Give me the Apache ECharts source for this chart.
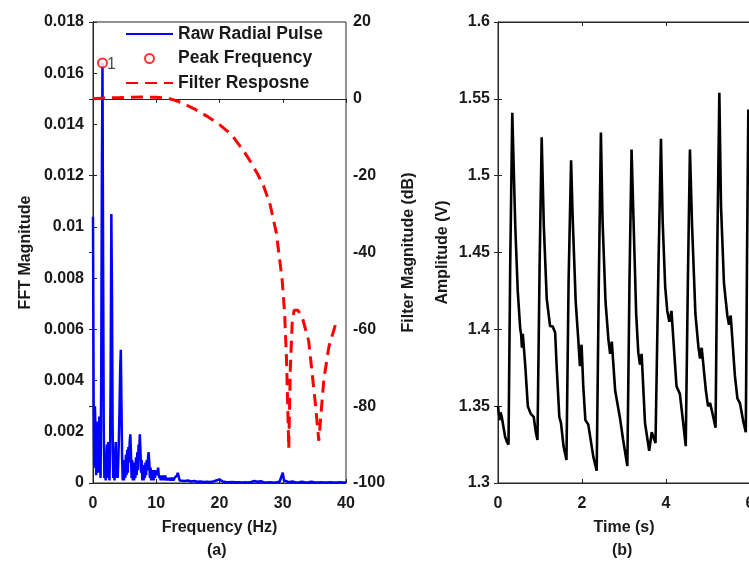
<!DOCTYPE html>
<html><head><meta charset="utf-8">
<script src="https://cdn.jsdelivr.net/npm/echarts@6/dist/echarts.min.js"></script>
<style>html,body{margin:0;padding:0;background:#fff}#c{width:749px;height:563px}</style>
</head><body><div id="c"></div>
<script>
// ---- FFT spectrum (panel a) ----
const fftFreq = [0.0,0.1,0.2,0.3,0.4,0.5,0.6,0.7,0.8,0.9,1.0,1.1,1.2,1.3,1.4,1.5,1.6,1.7,1.8,1.9,
2.0,2.1,2.2,2.3,2.4,2.5,2.6,2.7,2.8,2.9,3.0,3.1,3.2,3.3,3.4,3.5,3.6,3.7,3.8,3.9,
4.0,4.1,4.2,4.3,4.4,4.5,4.6,4.7,4.8,4.9,5.0,5.1,5.2,5.3,5.4,5.5,5.6,5.7,5.8,5.9,
6.0,6.1,6.2,6.3,6.4,6.5,6.6,6.7,6.8,6.9,7.0,7.1,7.2,7.3,7.4,7.5,7.6,7.7,7.8,7.9,
8.0,8.1,8.2,8.3,8.4,8.5,8.6,8.7,8.8,8.9,9.0,9.1,9.2,9.3,9.4,9.5,9.6,9.7,9.8,9.9,
10.0,10.1,10.2,10.3,10.4,10.5,10.6,10.7,10.8,10.9,11.0,11.1,11.2,11.3,11.4,11.5,11.6,11.7,11.8,11.9,
12.0,12.1,12.2,12.3,12.4,12.5,12.6,12.7,12.8,12.9,13.0,13.1,13.2,13.3,13.4,13.5,13.6,13.7,13.8,13.9,
14.0,14.5,15.0,15.5,16.0,16.5,17.0,17.5,18.0,18.5,19.0,19.5,20.0,20.5,21.0,21.5,22.0,22.5,23.0,23.5,
24.0,24.5,25.0,25.5,26.0,26.5,27.0,27.5,28.0,28.5,29.0,29.5,29.8,30.0,30.2,30.5,31.0,31.5,32.0,32.5,
33.0,33.5,34.0,34.5,35.0,35.5,36.0,36.5,37.0,37.5,38.0,38.5,39.0,39.5,40.0];
const fftMag = [0.0104,0.0033,0.0006,0.0030,0.0021,0.0003,0.0020,0.0024,0.0004,0.0016,
0.0026,0.0008,0.0002,0.0042,0.0118,0.0164,0.0085,0.0020,0.0002,0.0011,
0.0001,0.0009,0.0015,0.0002,0.0016,0.0007,0.0001,0.0012,0.0046,0.0105,
0.0074,0.0022,0.0002,0.0012,0.0001,0.0010,0.0016,0.0002,0.0011,0.0002,
0.0009,0.0018,0.0030,0.0045,0.0052,0.0031,0.0010,0.0001,0.0009,0.0001,
0.0008,0.0002,0.0011,0.0003,0.0013,0.0004,0.0014,0.0008,0.0016,0.0019,
0.0012,0.0002,0.0009,0.0001,0.0007,0.0001,0.0008,0.0002,0.0010,0.0003,
0.0012,0.0005,0.0015,0.0011,0.0019,0.0013,0.0004,0.0009,0.0001,0.0007,
0.0001,0.0006,0.0002,0.0008,0.0003,0.0009,0.0005,0.0010,0.0012,0.0008,
0.0002,0.0006,0.0001,0.0005,0.0001,0.0004,0.0001,0.0005,0.0002,0.0004,
0.0003,0.0005,0.0004,0.0006,0.0003,0.0002,0.0003,0.0001,0.0003,0.0001,
0.0003,0.0001,0.0003,0.0001,0.0003,0.0002,0.0001,0.0002,0.0001,0.0002,
0.0001,0.0002,0.0002,0.0001,0.0001,0.0002,0.0002,0.0001,0.0001,0.0002,
0.0002,0.0002,0.0002,0.0003,0.0004,0.0003,0.0002,0.0001,0.0001,0.0001,
0.0001,0.00008,0.0001,0.00006,0.00008,0.00005,0.00006,0.00004,0.00005,0.00004,
0.00006,0.0001,0.00014,0.00006,0.00004,0.00003,0.00004,0.00003,0.00003,0.00002,
0.00003,0.00002,0.00004,0.00008,0.00005,0.00007,0.00003,0.00002,0.00003,0.00002,
0.00003,0.00005,0.0001,0.0004,0.0001,0.00005,0.00003,0.00006,0.00003,0.00002,
0.00005,0.00003,0.00002,0.00005,0.00003,0.00002,0.00003,0.00002,0.00002,0.00003,
0.00002,0.00002,0.00003,0.00002,0.00002];
const peakFreq = [1.5];
const peakMag = [0.0164];
const peakLabel = ['1'];

// ---- Filter response (dB) ----
const filterFreq = [0,2,4,6,8,10,12,13,14,15,16,18,20,22,24,25,26,27,28,29,29.9,30.3,30.6,30.95,31.2,31.5,31.8,32.4,33.1,34.1,35.2,35.7,36.5,37.3,38.4,39.0];
const filterDb   = [0,0.2,0.3,0.4,0.45,0.4,0.1,-0.4,-1.0,-1.8,-2.6,-4.5,-6.7,-9.5,-14,-16.6,-19.5,-22.8,-27.5,-35,-47,-56,-68,-91,-70,-58,-55,-55,-57,-63,-80,-89,-73,-64.5,-58.4,-58];

// ---- Time-domain pulse (panel b) ----
const timeSec = [0,0.02,0.04,0.06,0.09,0.13,0.17,0.21,0.25,
0.29,0.34,0.41,0.47,0.53,0.55,0.57,0.59,0.65,0.71,0.78,0.85,0.90,0.94,
0.99,1.04,1.09,1.16,1.24,1.30,1.36,1.40,1.46,1.50,1.56,1.63,
1.68,1.74,1.78,1.85,1.91,1.95,1.99,2.03,2.08,2.15,2.27,2.35,
2.40,2.45,2.49,2.56,2.63,2.67,2.71,2.79,2.90,2.98,3.08,
3.13,3.18,3.23,3.29,3.34,3.38,3.42,3.50,3.60,3.66,3.75,
3.82,3.88,3.92,3.98,4.03,4.08,4.13,4.25,4.33,4.41,4.47,
4.52,4.57,4.62,4.70,4.77,4.81,4.85,4.95,5.00,5.05,5.10,5.18,
5.22,5.27,5.31,5.38,5.46,5.50,5.54,5.64,5.70,5.76,5.84,5.90,
5.93,5.96,6.02];
const amplitude = [1.350,1.345,1.341,1.346,1.343,1.344,1.330,1.327,1.325,
1.440,1.541,1.468,1.425,1.400,1.397,1.388,1.397,1.376,1.350,1.345,1.343,1.333,1.328,
1.440,1.525,1.468,1.420,1.402,1.402,1.398,1.374,1.343,1.339,1.324,1.315,
1.430,1.510,1.471,1.418,1.394,1.376,1.390,1.363,1.341,1.338,1.317,1.308,
1.430,1.528,1.470,1.418,1.393,1.384,1.392,1.360,1.343,1.328,1.311,
1.430,1.517,1.468,1.410,1.385,1.377,1.384,1.339,1.321,1.333,1.326,
1.440,1.524,1.471,1.428,1.412,1.405,1.412,1.363,1.358,1.339,1.324,
1.430,1.517,1.468,1.410,1.389,1.381,1.388,1.360,1.350,1.352,1.346,1.336,
1.450,1.554,1.480,1.430,1.409,1.403,1.409,1.370,1.355,1.352,1.340,1.333,
1.450,1.543,1.480];

const F = '"Liberation Sans", Arial, Helvetica, sans-serif';
const INK = '#1a1a1a';
const lab = (m) => ({ show: true, margin: m, color: INK, fontSize: 16, fontWeight: 'bold', fontFamily: F });
const nameStyle = { color: INK, fontSize: 16, fontWeight: 'bold', fontFamily: F };
const aLine = { show: true, lineStyle: { color: '#262626', width: 1 } };
const tickIn = { show: true, inside: true, length: 4, lineStyle: { color: '#262626', width: 1 } };
const noLab = { show: false };

const chart = echarts.init(document.getElementById('c'), null, { renderer: 'canvas' });
chart.setOption({
  animation: false,
  backgroundColor: '#fff',
  grid: [
    { left: 93, top: 22, width: 253, height: 461, show: true, borderColor: '#262626', borderWidth: 1,
      backgroundColor: 'transparent', containLabel: false, outerBoundsMode: 'none' },
    { left: 498, top: 22, width: 252, height: 461, show: true, borderColor: '#262626', borderWidth: 1,
      backgroundColor: 'transparent', containLabel: false, outerBoundsMode: 'none' }
  ],
  xAxis: [
    { type: 'value', gridIndex: 0, min: 0, max: 40, interval: 10, position: 'bottom',
      axisLine: aLine, axisTick: tickIn, axisLabel: lab(13), splitLine: { show: false },
      name: 'Frequency (Hz)', nameLocation: 'middle', nameGap: 37, nameTextStyle: nameStyle },
    { type: 'value', gridIndex: 0, min: 0, max: 40, interval: 10, position: 'top',
      axisLine: aLine, axisTick: tickIn, axisLabel: noLab, splitLine: { show: false } },
    { type: 'value', gridIndex: 1, min: 0, max: 6, interval: 2, position: 'bottom',
      axisLine: aLine, axisTick: tickIn, axisLabel: Object.assign(lab(13), { alignMaxLabel: 'center' }), splitLine: { show: false },
      name: 'Time (s)', nameLocation: 'middle', nameGap: 37, nameTextStyle: nameStyle },
    { type: 'value', gridIndex: 1, min: 0, max: 6, interval: 2, position: 'top',
      axisLine: aLine, axisTick: tickIn, axisLabel: noLab, splitLine: { show: false } }
  ],
  yAxis: [
    { type: 'value', gridIndex: 0, min: 0, max: 0.018, interval: 0.002, position: 'left',
      axisLine: aLine, axisTick: tickIn, axisLabel: lab(9), splitLine: { show: false },
      name: 'FFT Magnitude', nameLocation: 'middle', nameGap: 59, nameTextStyle: nameStyle },
    { type: 'value', gridIndex: 0, min: -100, max: 20, interval: 20, position: 'right',
      axisLine: aLine, axisTick: tickIn, axisLabel: lab(7), splitLine: { show: false },
      name: 'Filter Magnitude (dB)', nameLocation: 'middle', nameGap: 55, nameTextStyle: nameStyle },
    { type: 'value', gridIndex: 1, min: 1.3, max: 1.6, interval: 0.05, position: 'left',
      axisLine: aLine, axisTick: tickIn, axisLabel: lab(8), splitLine: { show: false },
      name: 'Amplitude (V)', nameLocation: 'middle', nameGap: 47, nameTextStyle: nameStyle },
    { type: 'value', gridIndex: 1, min: 1.3, max: 1.6, interval: 0.05, position: 'right',
      axisLine: aLine, axisTick: tickIn, axisLabel: noLab, splitLine: { show: false } }
  ],
  legend: {
    orient: 'vertical', left: 120, top: 19, itemWidth: 47, itemHeight: 9, itemGap: 4.5,
    selectedMode: false,
    textStyle: { color: INK, fontSize: 17.5, fontWeight: 'bold', fontFamily: F, lineHeight: 20 },
    data: [
      { name: 'Raw Radial Pulse', itemStyle: { opacity: 0 } },
      { name: 'Peak Frequency' },
      { name: 'Filter Resposne', itemStyle: { opacity: 0 } }
    ]
  },
  series: [
    { name: 'Raw Radial Pulse', type: 'line', xAxisIndex: 0, yAxisIndex: 0,
      data: fftFreq.map((f, i) => [f, fftMag[i]]),
      symbol: 'none', color: '#0000ff', lineStyle: { color: '#0000ff', width: 2.5 }, z: 3 },
    { name: 'Filter Resposne', type: 'line', xAxisIndex: 0, yAxisIndex: 1,
      data: filterFreq.map((f, i) => [f, filterDb[i]]),
      symbol: 'none', color: '#ff0000', lineStyle: { color: '#ff0000', width: 3, type: [12, 7] }, z: 4 },
    { name: 'Peak Frequency', type: 'scatter', xAxisIndex: 0, yAxisIndex: 0,
      data: peakFreq.map((f, i) => [f, peakMag[i]]),
      symbol: 'emptyCircle', symbolSize: 9, color: '#ff0000',
      itemStyle: { color: '#ff0000', borderColor: '#ff0000', borderWidth: 1 },
      label: { show: true, position: 'right', distance: 0, formatter: (p) => peakLabel[p.dataIndex],
        color: INK, fontSize: 16, fontFamily: F, offset: [-1, 2] }, z: 5 },
    { name: 'Pulse', type: 'line', xAxisIndex: 2, yAxisIndex: 2,
      data: timeSec.map((t, i) => [t, amplitude[i]]),
      symbol: 'none', color: '#000', lineStyle: { color: '#000', width: 2.6 }, z: 3 }
  ],
  graphic: [
    { type: 'text', left: 219 - 12, top: 543, style: { text: '(a)', fill: INK, font: 'bold 16px ' + F } },
    { type: 'text', left: 624 - 12, top: 543, style: { text: '(b)', fill: INK, font: 'bold 16px ' + F } }
  ]
});
</script></body></html>
